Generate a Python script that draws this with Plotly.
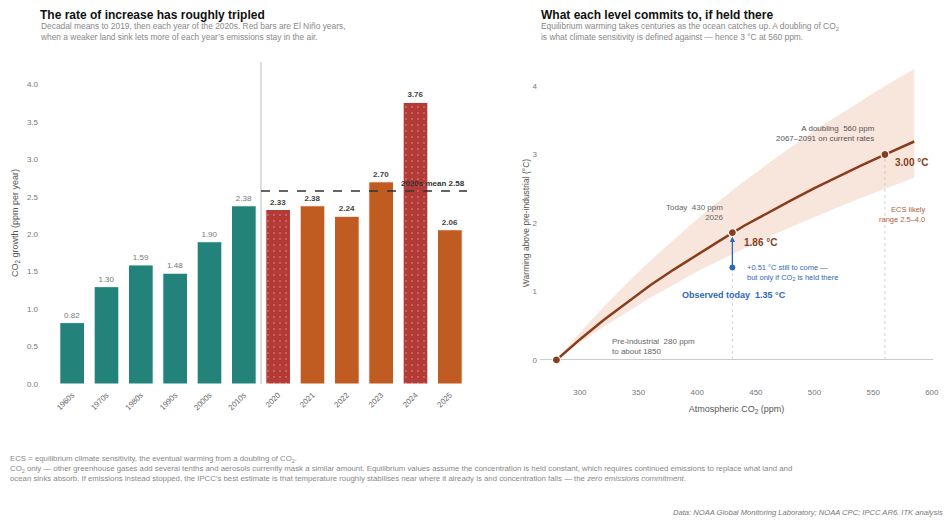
import plotly.graph_objects as go

# ---------------- data ----------------
categories = ["1960s", "1970s", "1980s", "1990s", "2000s", "2010s",
              "2020", "2021", "2022", "2023", "2024", "2025"]
growth = [0.82, 1.30, 1.59, 1.48, 1.90, 2.38, 2.33, 2.38, 2.24, 2.70, 3.76, 2.06]
is_decade = [True] * 6 + [False] * 6
el_nino = [False] * 6 + [True, False, False, False, True, False]

ppm = [280, 300, 320, 340, 360, 380, 400, 420, 440, 460, 480, 500, 520, 540, 560, 585]
warm_central = [0.00, 0.30, 0.58, 0.84, 1.09, 1.32, 1.54, 1.75, 1.96, 2.15, 2.33, 2.51, 2.68, 2.84, 3.00, 3.19]
warm_low = [0.00, 0.25, 0.48, 0.70, 0.91, 1.10, 1.29, 1.46, 1.63, 1.79, 1.94, 2.09, 2.23, 2.37, 2.50, 2.66]
warm_high = [0.00, 0.40, 0.77, 1.12, 1.45, 1.76, 2.06, 2.34, 2.61, 2.86, 3.11, 3.35, 3.57, 3.79, 4.00, 4.25]

key_ppm = [280, 430, 560]
key_warm = [0.00, 1.86, 3.00]
observed_ppm = 430
observed_warm = 1.35

W, H = 952, 525
OFF = 8  # page body margin


def px(x):
    return (x - OFF) / W


def py(y):
    return 1 - (y - OFF) / H


FONT = "Liberation Sans, Arial, Helvetica, sans-serif"
TEAL = "#23837a"
RED = "#b33a35"
ORANGE = "#c05b22"
BROWN = "#8a3d1c"
BLUE = "#2e68b2"
GREY = "#666666"

bar_colors = [TEAL if d else (RED if n else ORANGE) for d, n in zip(is_decade, el_nino)]
bar_text = [f"{v:.2f}" if d else f"<b>{v:.2f}</b>" for v, d in zip(growth, is_decade)]
text_colors = ["#777777" if d else "#444444" for d in is_decade]
patterns = ["." if n else "" for n in el_nino]

fig = go.Figure()

fig.add_trace(go.Bar(
    x=list(range(len(categories))), y=growth,
    marker=dict(color=bar_colors, line=dict(color="white", width=1),
                pattern=dict(shape=patterns, fgcolor="rgba(255,255,255,0.06)", size=6, solidity=0.05)),
    text=bar_text, textposition="outside", cliponaxis=False,
    textfont=dict(size=8, color=text_colors, family=FONT),
    xaxis="x", yaxis="y", showlegend=False, hoverinfo="skip",
))

# ---- right panel ----
fig.add_trace(go.Scatter(x=ppm, y=warm_low, mode="lines", line=dict(width=0),
                         xaxis="x2", yaxis="y2", showlegend=False, hoverinfo="skip"))
fig.add_trace(go.Scatter(x=ppm, y=warm_high, mode="lines", line=dict(width=0),
                         fill="tonexty", fillcolor="rgba(232,172,142,0.30)",
                         xaxis="x2", yaxis="y2", showlegend=False, hoverinfo="skip"))
fig.add_trace(go.Scatter(x=ppm, y=warm_central, mode="lines", line=dict(color=BROWN, width=2.5),
                         xaxis="x2", yaxis="y2", showlegend=False, hoverinfo="skip"))

# dotted drop lines
for xp, yp in zip(key_ppm[1:], key_warm[1:]):
    fig.add_shape(type="line", x0=xp, x1=xp, y0=0, y1=yp, xref="x2", yref="y2",
                  line=dict(color="#c8c8c8", width=0.8, dash="dot"), layer="below")

# arrow observed -> equilibrium
fig.add_annotation(x=observed_ppm, y=key_warm[1] - 0.06, ax=observed_ppm, ay=observed_warm,
                   xref="x2", yref="y2", axref="x2", ayref="y2", text="", showarrow=True,
                   arrowhead=2, arrowsize=0.8, arrowwidth=1.3, arrowcolor=BLUE)

fig.add_trace(go.Scatter(x=[observed_ppm], y=[observed_warm], mode="markers",
                         marker=dict(color=BLUE, size=7, line=dict(color="white", width=1)),
                         xaxis="x2", yaxis="y2", showlegend=False, hoverinfo="skip"))
fig.add_trace(go.Scatter(x=key_ppm, y=key_warm, mode="markers",
                         marker=dict(color=BROWN, size=8, line=dict(color="white", width=1.2)),
                         xaxis="x2", yaxis="y2", showlegend=False, hoverinfo="skip", cliponaxis=False))

# ---- left panel shapes ----
mean_2020s = sum(g for g, d in zip(growth, is_decade) if not d) / sum(1 for d in is_decade if not d)
fig.add_shape(type="line", x0=5.5, x1=5.5, y0=0, y1=1, xref="x", yref="y domain",
              line=dict(color="#bbbbbb", width=1))
fig.add_shape(type="line", x0=5.5, x1=11.5, y0=mean_2020s, y1=mean_2020s, xref="x", yref="y",
              line=dict(color="#333333", width=1.5, dash="dash"))

annotations = [
    dict(x=5.55, y=1, xref="x", yref="y domain", xanchor="left", yanchor="top", yshift=-1,
         text="<i>2020s, year by year</i>", showarrow=False, font=dict(size=7.5, color="#999999")),
    dict(x=1, y=mean_2020s, xref="x domain", yref="y", xanchor="right", yanchor="bottom", yshift=1,
         text=f"<b>2020s mean {mean_2020s:.2f}</b>", showarrow=False, font=dict(size=8, color="#333333")),
    # titles
    dict(x=px(38), y=py(15.5), xref="paper", yref="paper", xanchor="left", yanchor="middle",
         text="<b>The rate of increase has roughly tripled</b>", showarrow=False,
         font=dict(size=12, color="#111111")),
    dict(x=px(38), y=py(31), xref="paper", yref="paper", xanchor="left", yanchor="middle", align="left",
         text="Decadal means to 2019, then each year of the 2020s. Red bars are El Niño years,<br>"
              "when a weaker land sink lets more of each year’s emissions stay in the air.",
         showarrow=False, font=dict(size=8.4, color="#888888")),
    dict(x=px(539), y=py(15.5), xref="paper", yref="paper", xanchor="left", yanchor="middle",
         text="<b>What each level commits to, if held there</b>", showarrow=False,
         font=dict(size=12, color="#111111")),
    dict(x=px(539), y=py(31), xref="paper", yref="paper", xanchor="left", yanchor="middle", align="left",
         text="Equilibrium warming takes centuries as the ocean catches up. A doubling of CO<sub>2</sub><br>"
              "is what climate sensitivity is defined against — hence 3 °C at 560 ppm.",
         showarrow=False, font=dict(size=8.4, color="#888888")),
    # footer
    dict(x=0, y=py(468.5), xref="paper", yref="paper", xanchor="left", yanchor="middle", align="left",
         text="ECS = equilibrium climate sensitivity, the eventual warming from a doubling of CO<sub>2</sub>.<br>"
              "CO<sub>2</sub> only — other greenhouse gases add several tenths and aerosols currently mask a similar amount. "
              "Equilibrium values assume the concentration is held constant, which requires continued emissions to replace what land and<br>"
              "ocean sinks absorb. If emissions instead stopped, the IPCC’s best estimate is that temperature roughly stabilises "
              "near where it already is and concentration falls — the <i>zero emissions commitment</i>.",
         showarrow=False, font=dict(size=7.8, color="#888888")),
    dict(x=px(945), y=py(512), xref="paper", yref="paper", xanchor="right", yanchor="middle",
         text="<i>Data: NOAA Global Monitoring Laboratory; NOAA CPC; IPCC AR6. ITK analysis</i>",
         showarrow=False, font=dict(size=7.6, color="#777777")),
    # right panel labels
    dict(x=325.5, y=0.20, xref="x2", yref="y2", xanchor="left", yanchor="middle", align="left",
         text=f"Pre-industrial  {key_ppm[0]} ppm<br>to about 1850", showarrow=False,
         font=dict(size=8, color="#666666")),
    dict(x=424, y=2.16, xref="x2", yref="y2", xanchor="right", yanchor="middle", align="right",
         text=f"Today  {key_ppm[1]} ppm<br>2026", showarrow=False, font=dict(size=8, color="#666666")),
    dict(x=438, y=1.72, xref="x2", yref="y2", xanchor="left", yanchor="middle",
         text=f"<b>{key_warm[1]:.2f} °C</b>", showarrow=False, font=dict(size=10, color=BROWN)),
    dict(x=441, y=1.27, xref="x2", yref="y2", xanchor="left", yanchor="middle", align="left",
         text=f"+{key_warm[1] - observed_warm:.2f} °C still to come —<br>but only if CO<sub>2</sub> is held there",
         showarrow=False, font=dict(size=7.5, color=BLUE)),
    dict(x=431, y=0.95, xref="x2", yref="y2", xanchor="center", yanchor="middle",
         text=f"<b>Observed today  {observed_warm:.2f} °C</b>", showarrow=False,
         font=dict(size=9, color=BLUE)),
    dict(x=553, y=3.30, xref="x2", yref="y2", xanchor="right", yanchor="middle", align="right",
         text=f"A doubling  {key_ppm[2]} ppm<br>2067–2091 on current rates", showarrow=False,
         font=dict(size=8, color="#555555")),
    dict(x=566.5, y=2.88, xref="x2", yref="y2", xanchor="left", yanchor="middle",
         text=f"<b>{key_warm[2]:.2f} °C</b>", showarrow=False, font=dict(size=10, color=BROWN)),
    dict(x=597, y=2.13, xref="x2", yref="y2", xanchor="right", yanchor="middle", align="right",
         text="ECS likely<br>range 2.5–4.0", showarrow=False, font=dict(size=7.5, color="#b0603f")),
]

fig.update_layout(
    width=W, height=H, margin=dict(l=0, r=0, t=0, b=0, autoexpand=False),
    paper_bgcolor="white", plot_bgcolor="white",
    font=dict(family=FONT, color=GREY, size=8),
    bargap=0.28, annotations=annotations,
    xaxis=dict(domain=[px(55), px(467)], range=[-0.5, 11.5], automargin=False,
               tickmode="array", tickvals=list(range(len(categories))), ticktext=categories,
               tickangle=-45, showgrid=False, zeroline=False, showline=False, ticklabelstandoff=4,
               tickfont=dict(size=7.8, color="#666666"), ticks=""),
    yaxis=dict(domain=[py(384), py(62)], range=[0, 4.3], automargin=False,
               tickvals=[0, 0.5, 1, 1.5, 2, 2.5, 3, 3.5, 4], tickformat=".1f",
               showgrid=False, zeroline=False, showline=False, ticks="",
               tickfont=dict(size=8, color="#777777"), ticklabelstandoff=16,
               title=dict(text="CO<sub>2</sub> growth (ppm per year)", font=dict(size=9, color="#555555"),
                          standoff=6)),
    xaxis2=dict(domain=[px(540), px(933)], range=[266, 601], anchor="y2", automargin=False,
                tickvals=[300, 350, 400, 450, 500, 550, 600], ticklabelstandoff=5,
                showgrid=False, zeroline=False, showline=False, ticks="",
                tickfont=dict(size=8, color="#777777"),
                title=dict(text="Atmospheric CO<sub>2</sub> (ppm)", font=dict(size=9, color="#555555"),
                           standoff=10)),
    yaxis2=dict(domain=[py(380.5), py(65.5)], range=[-0.3, 4.3], anchor="x2", automargin=False,
                tickvals=[0, 1, 2, 3, 4], showgrid=False, zeroline=True, zerolinecolor="#cccccc",
                zerolinewidth=1.2, showline=False, ticks="", ticklabelstandoff=2,
                tickfont=dict(size=8, color="#777777"),
                title=dict(text="Warming above pre-industrial (°C)", font=dict(size=8.5, color="#555555"),
                           standoff=1)),
)

fig.write_html("out.html")
